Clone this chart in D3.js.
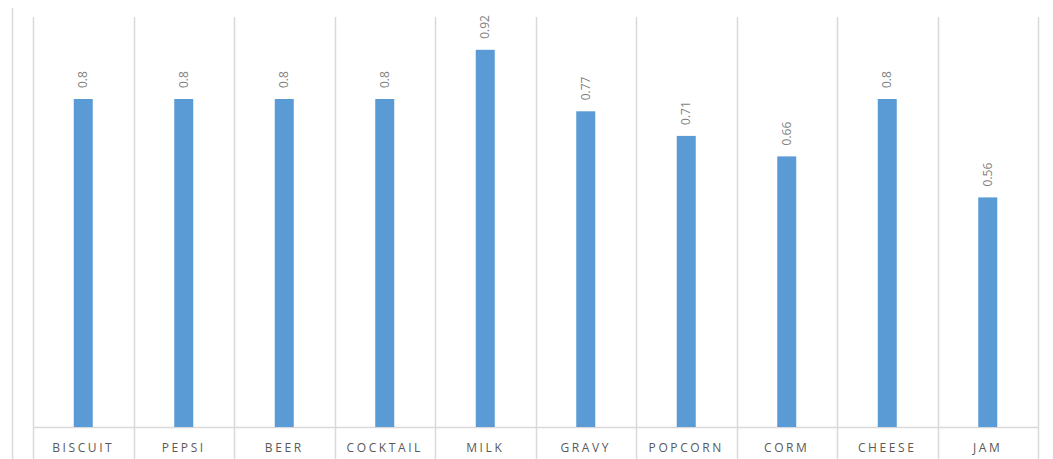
<!DOCTYPE html>
<html>
<head>
<meta charset="utf-8">
<script src="https://cdn.jsdelivr.net/npm/d3@7"></script>
<style>
  html, body { margin: 0; padding: 0; background: #fff; }
  svg { display: block; }
</style>
</head>
<body>
<svg id="chart" width="1053" height="459"></svg>
<script>
// Chart data
const categories = ["BISCUIT", "PEPSI", "BEER", "COCKTAIL", "MILK", "GRAVY", "POPCORN", "CORM", "CHEESE", "JAM"];
const values = [0.8, 0.8, 0.8, 0.8, 0.92, 0.77, 0.71, 0.66, 0.8, 0.56];

const width = 1053, height = 459;
const margin = { top: 17, right: 15, bottom: 32, left: 33 };
const svg = d3.select("#chart");

const x = d3.scaleBand()
  .domain(categories)
  .range([margin.left, width - margin.right])
  .paddingInner(0).paddingOuter(0);

const y = d3.scaleLinear()
  .domain([0, 1])
  .range([height - margin.bottom, margin.top]);

const gridColor = "#d9d9d9";

// Outer frame line on the left
svg.append("line")
  .attr("x1", 12.5).attr("x2", 12.5)
  .attr("y1", 8).attr("y2", height)
  .attr("stroke", gridColor).attr("stroke-width", 1.5);

// Vertical category separators (run through the axis label row)
const edges = categories.map(c => x(c)).concat([x.range()[1]]);
svg.append("g").selectAll("line")
  .data(edges)
  .join("line")
  .attr("x1", d => Math.round(d) + 0.5).attr("x2", d => Math.round(d) + 0.5)
  .attr("y1", margin.top).attr("y2", height)
  .attr("stroke", gridColor).attr("stroke-width", 1.5);

// Baseline
svg.append("line")
  .attr("x1", x.range()[0]).attr("x2", x.range()[1])
  .attr("y1", y(0) + 0.5).attr("y2", y(0) + 0.5)
  .attr("stroke", gridColor).attr("stroke-width", 1.5);

// Bars
const barW = 19;
svg.append("g").selectAll("rect")
  .data(categories)
  .join("rect")
  .attr("x", (d) => x(d) + x.bandwidth() / 2 - barW / 2)
  .attr("y", (d, i) => y(values[i]))
  .attr("width", barW)
  .attr("height", (d, i) => y(0) - y(values[i]))
  .attr("fill", "#5b9bd5");

// Value labels, rotated above each bar
svg.append("g").selectAll("text")
  .data(categories)
  .join("text")
  .attr("transform", (d, i) => {
    const cx = x(d) + x.bandwidth() / 2 + 4;
    const cy = y(values[i]) - 11;
    return `translate(${cx},${cy}) rotate(-90)`;
  })
  .attr("text-anchor", "start")
  .attr("font-family", "'Open Sans', 'Liberation Sans', sans-serif")
  .attr("font-size", 12)
  .attr("fill", "#7f7f7f")
  .text((d, i) => String(values[i]));

// Category labels
const axis = d3.axisBottom(x).tickSize(0).tickPadding(0);
const gx = svg.append("g")
  .attr("transform", `translate(0,${y(0)})`)
  .call(axis);
gx.select(".domain").remove();
gx.selectAll("text")
  .attr("dy", null)
  .attr("y", 25)
  .attr("font-family", "'Open Sans', 'Liberation Sans', sans-serif")
  .attr("font-size", 12)
  .attr("letter-spacing", "2.6px")
  .attr("fill", "#595959");
</script>
</body>
</html>
